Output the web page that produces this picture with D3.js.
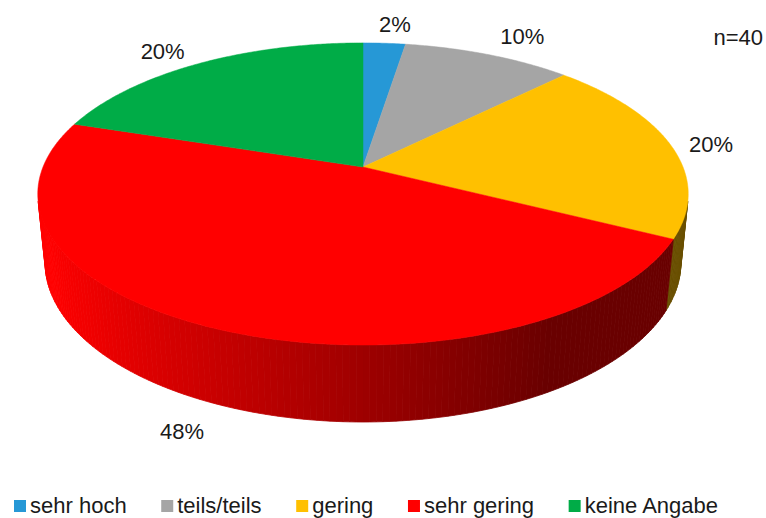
<!DOCTYPE html>
<html>
<head>
<meta charset="utf-8">
<script src="https://cdn.jsdelivr.net/npm/d3@7"></script>
<style>
  html, body { margin: 0; padding: 0; background: #fff; }
  svg { display: block; }
  text { font-family: "Liberation Sans", Arial, sans-serif; }
</style>
</head>
<body>
<svg id="chart" width="766" height="518"></svg>
<script>
// ---- data ----
const categories = ["sehr hoch", "teils/teils", "gering", "sehr gering", "keine Angabe"];
const values = [2.5, 10, 20, 47.5, 20];
const labels = ["2%", "10%", "20%", "48%", "20%"];
const sampleNote = "n=40";
const palette = ["#2698D6", "#A5A5A5", "#FFC000", "#FF0000", "#00AC47"];

// ---- layout ----
const W = 766, H = 518;
const cx = 363, cy = 167, K = 320;
const elev = Math.asin(0.457);
const D = 4.98;          // camera distance (in radius units)
const depth = 0.242;     // pie thickness (in radius units)
const labelNudge = [[7, 1], [13, 0], [-19, 4], [-38, 26], [-8, 5]];

const svg = d3.select("#chart");
const color = d3.scaleOrdinal().domain(categories).range(palette);

const pie = d3.pie().sort(null).value(d => d.value).startAngle(0).endAngle(2 * Math.PI);
const arcs = pie(categories.map((c, i) => ({ cat: c, value: values[i], label: labels[i] })));

function proj(theta, r, Y) {
  const X = r * Math.sin(theta), Z = -r * Math.cos(theta);
  const yc = Y * Math.cos(elev) - Z * Math.sin(elev);
  const zc = Y * Math.sin(elev) + Z * Math.cos(elev);
  const f = D / (D - zc);
  return [cx + K * X * f, cy - K * yc * f, zc];
}

function shade(c, theta) {
  const b = Math.max(0.41, Math.min(1, 0.62 - 0.42 * Math.sin(theta)));
  const rgb = d3.rgb(c);
  return d3.rgb(rgb.r * b, rgb.g * b, rgb.b * b).formatHex();
}

const line = d3.line();
const step = Math.PI / 180;

// ---- outer walls ----
const quads = [];
arcs.forEach(a => {
  const n = Math.max(1, Math.ceil((a.endAngle - a.startAngle) / step));
  for (let j = 0; j < n; j++) {
    const t0 = a.startAngle + (a.endAngle - a.startAngle) * j / n;
    const t1 = a.startAngle + (a.endAngle - a.startAngle) * (j + 1) / n;
    const tm = (t0 + t1) / 2;
    if (-1 - D * Math.cos(elev) * Math.cos(tm) <= 0) continue;
    const p = [proj(t0, 1, 0), proj(t1, 1, 0), proj(t1, 1, -depth), proj(t0, 1, -depth)];
    quads.push({ pts: p.map(q => [q[0], q[1]]), z: proj(tm, 1, 0)[2], fill: shade(color(a.data.cat), tm) });
  }
});
quads.sort((a, b) => a.z - b.z);
svg.append("g").selectAll("path").data(quads).join("path")
  .attr("d", d => line(d.pts) + "Z")
  .attr("fill", d => d.fill)
  .attr("stroke", d => d.fill)
  .attr("stroke-width", 0.8)
  .attr("stroke-linejoin", "round");

// ---- top faces ----
svg.append("g").selectAll("path").data(arcs).join("path")
  .attr("d", a => {
    const pts = [[cx, cy]];
    const n = Math.max(2, Math.ceil((a.endAngle - a.startAngle) / (step / 2)));
    for (let j = 0; j <= n; j++) {
      const t = a.startAngle + (a.endAngle - a.startAngle) * j / n;
      const p = proj(t, 1, 0);
      pts.push([p[0], p[1]]);
    }
    return line(pts) + "Z";
  })
  .attr("fill", a => color(a.data.cat))
  .attr("stroke", a => color(a.data.cat))
  .attr("stroke-width", 0.5);

// ---- data labels ----
svg.append("g").selectAll("text").data(arcs).join("text")
  .attr("transform", (a, i) => {
    const m = (a.startAngle + a.endAngle) / 2;
    const p = Math.cos(m) < -0.5 ? proj(m, 1.0, -depth) : proj(m, 1.2, 0);
    return `translate(${p[0] + labelNudge[i][0]},${p[1] + labelNudge[i][1]})`;
  })
  .attr("text-anchor", "middle")
  .attr("dy", "0.36em")
  .attr("font-size", 22)
  .attr("fill", "#1a1a1a")
  .text(a => a.data.label);

// ---- n note ----
svg.append("text")
  .attr("x", 763).attr("y", 45)
  .attr("text-anchor", "end")
  .attr("font-size", 22)
  .attr("fill", "#1a1a1a")
  .text(sampleNote);

// ---- legend ----
const legend = svg.append("g");
const items = legend.selectAll("g").data(categories).join("g");
items.append("rect").attr("width", 12).attr("height", 12).attr("y", 500)
  .attr("fill", d => color(d));
items.append("text").attr("x", 16).attr("y", 512.5)
  .attr("font-size", 22).attr("fill", "#1a1a1a").text(d => d);
const widths = [];
items.each(function () { widths.push(d3.select(this).select("text").node().getComputedTextLength()); });
const startX = 14, endX = 718;
const total = widths.reduce((s, w) => s + w + 16, 0);
const gap = (endX - startX - total) / (categories.length - 1);
let xPos = startX;
items.each(function (d, i) {
  d3.select(this).attr("transform", `translate(${xPos},0)`);
  xPos += 16 + widths[i] + gap;
});
</script>
</body>
</html>
